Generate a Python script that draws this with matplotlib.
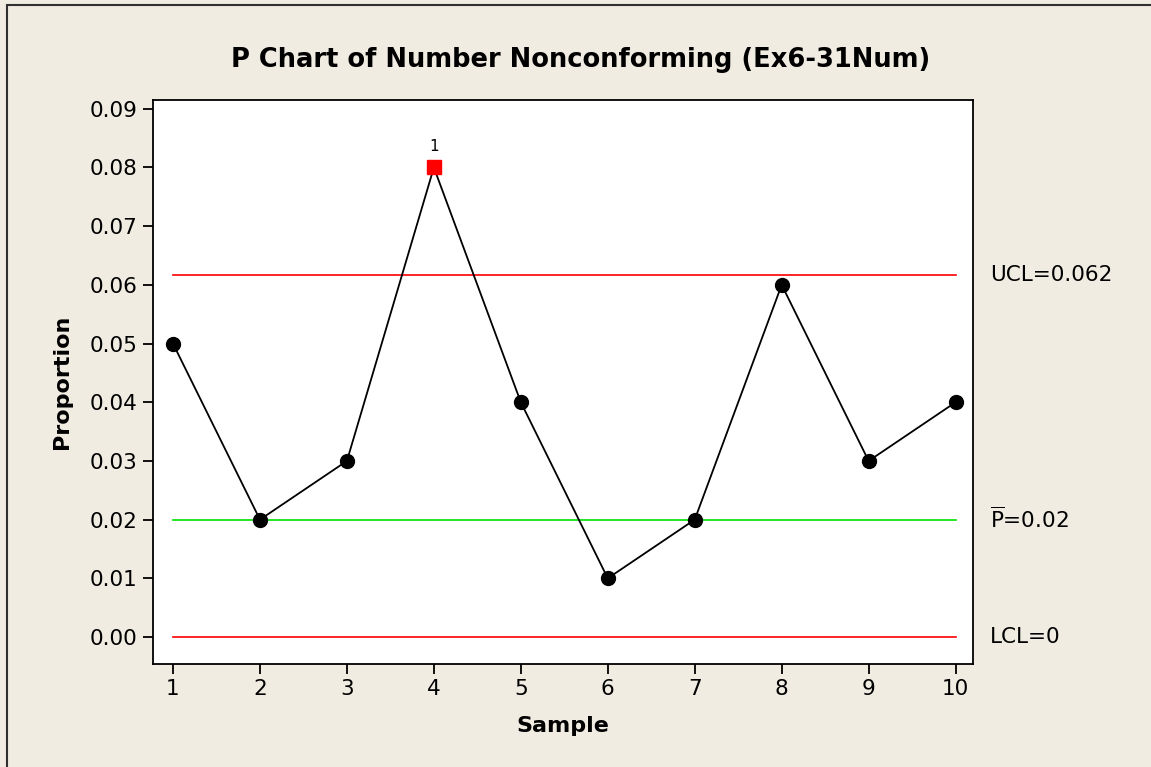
import matplotlib
matplotlib.use("Agg")
import matplotlib.pyplot as plt
from matplotlib.patches import Rectangle

# P chart data (proportion nonconforming per sample)
samples = [1, 2, 3, 4, 5, 6, 7, 8, 9, 10]
proportion = [0.05, 0.02, 0.03, 0.08, 0.04, 0.01, 0.02, 0.06, 0.03, 0.04]
ucl = 0.0617
center = 0.02
lcl = 0.0
ucl_label = "UCL=0.062"
center_label = r"$\overline{\mathrm{P}}$=0.02"
lcl_label = "LCL=0"
out_points = [4]   # samples failing test 1
yticks = [0.00, 0.01, 0.02, 0.03, 0.04, 0.05, 0.06, 0.07, 0.08, 0.09]

plt.rcParams['font.family'] = ['DejaVu Sans']
bg = '#F0ECE2'

fig = plt.figure(figsize=(11.51, 7.67), dpi=100, facecolor=bg)
W, H = 1151, 767
ax = fig.add_axes([153 / W, 1 - 664 / H, (973 - 153) / W, (664 - 100) / H])
ax.set_facecolor('white')

# frame of the whole graph
fig.patches.append(Rectangle((7 / W, -0.01), 1.0, 1 - 5 / H + 0.01, transform=fig.transFigure,
                             fill=False, edgecolor='#303030', linewidth=1.5))

# control limits and center line
ax.plot([samples[0], samples[-1]], [ucl, ucl], color='red', lw=1.2, zorder=1)
ax.plot([samples[0], samples[-1]], [lcl, lcl], color='red', lw=1.2, zorder=1)
ax.plot([samples[0], samples[-1]], [center, center], color='#00E000', lw=1.2, zorder=1)

ax.plot(samples, proportion, color='black', lw=1.3, zorder=2)
normal_x = [s for s in samples if s not in out_points]
normal_y = [p for s, p in zip(samples, proportion) if s not in out_points]
ax.plot(normal_x, normal_y, 'o', color='black', ms=10, zorder=3)
for s in out_points:
    p = proportion[samples.index(s)]
    ax.plot([s], [p], 's', color='red', ms=10, zorder=3)
    ax.annotate("1", (s, p), xytext=(0, 10), textcoords='offset points',
                ha='center', va='bottom', fontsize=11)

ax.set_xlim(0.77, 10.2)
ax.set_ylim(-0.0046, 0.0915)
ax.set_xticks(samples)
ax.set_yticks(yticks)
ax.set_yticklabels(["%.2f" % v for v in yticks])
ax.tick_params(direction='out', length=7, width=1.3, labelsize=15.5, pad=4)
for sp in ax.spines.values():
    sp.set_linewidth(1.3)

# labels right of the plot area
for val, lab in [(ucl, ucl_label), (center, center_label), (lcl, lcl_label)]:
    ax.annotate(lab, xy=(1.0, val), xycoords=('axes fraction', 'data'),
                xytext=(12, 0), textcoords='offset points',
                ha='left', va='center', fontsize=15.5, annotation_clip=False)

fig.text(581 / W, 1 - 60 / H, "P Chart of Number Nonconforming (Ex6-31Num)",
         fontsize=18.5, fontweight='bold', ha='center', va='center')
ax.set_xlabel("Sample", fontsize=16, fontweight='bold', labelpad=12)
ax.set_ylabel("Proportion", fontsize=16, fontweight='bold', labelpad=13)

fig.savefig("out.png", dpi=100, facecolor=bg)
